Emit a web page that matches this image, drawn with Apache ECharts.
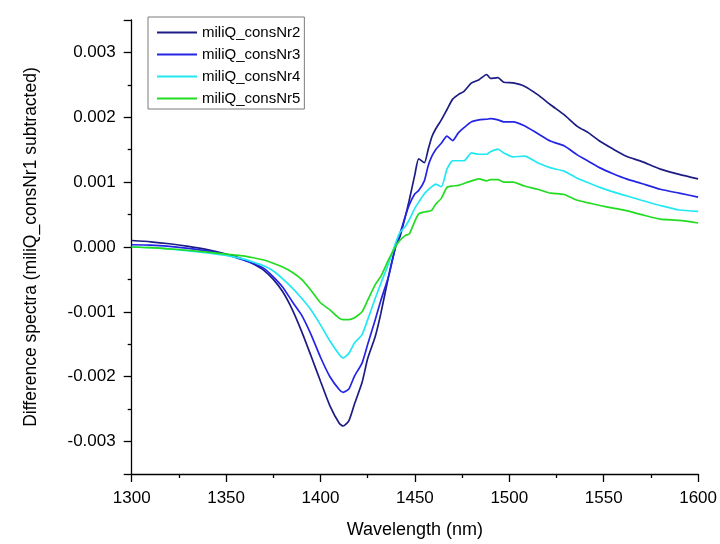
<!DOCTYPE html>
<html>
<head>
<meta charset="utf-8">
<script src="https://cdn.jsdelivr.net/npm/echarts@6/dist/echarts.min.js"></script>
<style>
html,body{margin:0;padding:0;background:#fff;}
#chart{width:720px;height:544px;}
</style>
</head>
<body>
<div id="chart"></div>
<script>
const wavelength = [1300,1310,1320,1330,1340,1350,1360,1365,1370,1375,
1380,1385,1390,1395,1400,1405,1410,1412,1415,1418,
1422,1425,1429,1432,1436,1440,1442,1445,1447,1450,
1452,1455,1457,1459,1461,1464,1467,1470,1473,1476,
1480,1484,1488,1490,1494,1497,1502,1508,1515,1522,
1529,1536,1542,1548,1555,1562,1570,1580,1590,1600];

const seriesNames = ['miliQ_consNr2','miliQ_consNr3','miliQ_consNr4','miliQ_consNr5'];

const consNr2 = [0.00010,0.00008,0.00005,0.00001,-0.00004,-0.00011,-0.00020,-0.00027,-0.00036,-0.00050,
-0.00069,-0.00096,-0.00130,-0.00168,-0.00207,-0.00245,-0.00272,-0.00276,-0.00268,-0.00242,
-0.00209,-0.00172,-0.00138,-0.00102,-0.00046,0.00003,0.00015,0.00048,0.00072,0.00112,
0.00136,0.00130,0.00150,0.00170,0.00182,0.00196,0.00212,0.00228,0.00235,0.00240,
0.00253,0.00258,0.00266,0.00260,0.00261,0.00254,0.00253,0.00248,0.00235,0.00219,
0.00204,0.00186,0.00176,0.00163,0.00151,0.00140,0.00132,0.00120,0.00112,0.00105];

const consNr3 = [0.000035,0.00003,0.00001,-0.00002,-0.00006,-0.00012,-0.00021,-0.00026,-0.00033,-0.00046,
-0.00062,-0.00084,-0.00105,-0.00135,-0.00170,-0.00200,-0.00220,-0.00224,-0.00219,-0.00199,
-0.00179,-0.00150,-0.00112,-0.00082,-0.00046,0.00003,0.00020,0.00048,0.00065,0.00082,
0.00087,0.00102,0.00125,0.00140,0.00150,0.00160,0.00171,0.00164,0.00176,0.00184,
0.00193,0.00196,0.00197,0.00198,0.00196,0.00193,0.00193,0.00187,0.00175,0.00163,
0.00156,0.00142,0.00132,0.00122,0.00113,0.00105,0.00098,0.00089,0.00083,0.00077];

const consNr4 = [0.00000,-0.00001,-0.00003,-0.00006,-0.00009,-0.00013,-0.00019,-0.00024,-0.00029,-0.00037,
-0.00049,-0.00063,-0.00079,-0.00097,-0.00120,-0.00145,-0.00166,-0.00171,-0.00164,-0.00148,
-0.00135,-0.00112,-0.00079,-0.00056,-0.00026,0.00008,0.00022,0.00032,0.00042,0.00060,
0.00069,0.00082,0.00088,0.00093,0.00097,0.00093,0.00120,0.00133,0.00133,0.00133,
0.00145,0.00143,0.00143,0.00147,0.00151,0.00145,0.00139,0.00140,0.00130,0.00122,
0.00117,0.00106,0.00099,0.00092,0.00085,0.00079,0.00072,0.00064,0.00057,0.00055];

const consNr5 = [0.00000,-0.00001,-0.00003,-0.00005,-0.00008,-0.00011,-0.00014,-0.00017,-0.00020,-0.00025,
-0.00031,-0.00039,-0.00050,-0.00067,-0.00086,-0.00097,-0.00110,-0.00112,-0.00112,-0.00109,
-0.00100,-0.00082,-0.00058,-0.00045,-0.00020,0.00002,0.00010,0.00018,0.00020,0.00040,
0.00051,0.00054,0.00055,0.00057,0.00066,0.00075,0.00092,0.00094,0.00095,0.00098,
0.00102,0.00105,0.00102,0.00104,0.00104,0.00100,0.00100,0.00094,0.00089,0.00083,
0.00081,0.00072,0.00068,0.00064,0.00060,0.00056,0.00050,0.00043,0.00041,0.00037];

const allValues = [consNr2, consNr3, consNr4, consNr5];
const colors = ['#1c1c84','#2424e4','#22e8f2','#22dc22'];
const FONT = 'Liberation Sans, Arial, sans-serif';

const chart = echarts.init(document.getElementById('chart'), null, {renderer:'canvas'});
chart.setOption({
  backgroundColor: '#ffffff',
  animation: false,
  grid: {left: 131.7, right: 18.3, top: 20, bottom: 64},
  legend: {
    orient: 'vertical',
    left: 148, top: 17,
    padding: [7, 4, 2, 9],
    icon: 'rect',
    itemWidth: 40, itemHeight: 2, itemGap: 5,
    backgroundColor: '#fff',
    borderColor: '#7a7a7a', borderWidth: 1,
    textStyle: {fontFamily: FONT, fontSize: 15, color: '#000', lineHeight: 17},
    data: seriesNames
  },
  xAxis: {
    type: 'value', min: 1300, max: 1600, interval: 50,
    name: 'Wavelength (nm)', nameLocation: 'middle', nameGap: 47,
    nameTextStyle: {fontFamily: FONT, fontSize: 18, color: '#000'},
    axisLine: {show: true, onZero: false, lineStyle: {color: '#000', width: 1.3}},
    axisTick: {show: true, inside: false, length: 8, lineStyle: {color: '#000', width: 1.3}},
    minorTick: {show: true, splitNumber: 2, length: 4, lineStyle: {color: '#000', width: 1.3}},
    splitLine: {show: false},
    axisLabel: {fontFamily: FONT, fontSize: 17, color: '#000', margin: 16,
      formatter: v => String(v)}
  },
  yAxis: {
    type: 'value', min: -0.0035, max: 0.0035, splitNumber: 7,
    name: 'Difference spectra (miliQ_consNr1 subtracted)', nameLocation: 'middle', nameGap: 92,
    nameRotate: 90,
    nameTextStyle: {fontFamily: FONT, fontSize: 17.5, color: '#000'},
    axisLine: {show: true, onZero: false, lineStyle: {color: '#000', width: 1.3}},
    axisTick: {show: true, inside: false, length: 8, lineStyle: {color: '#000', width: 1.3}},
    minorTick: {show: true, splitNumber: 2, length: 4, lineStyle: {color: '#000', width: 1.3}},
    splitLine: {show: false},
    axisLabel: {fontFamily: FONT, fontSize: 17, color: '#000', margin: 16,
      showMinLabel: false, showMaxLabel: false,
      formatter: v => v.toFixed(3)}
  },
  series: seriesNames.map((name, k) => ({
    name: name,
    type: 'line',
    symbol: 'none',
    smooth: 0.2,
    color: colors[k],
    itemStyle: {color: colors[k]},
    lineStyle: {color: colors[k], width: 1.7},
    data: wavelength.map((w, i) => [w, allValues[k][i]])
  }))
});
</script>
</body>
</html>
